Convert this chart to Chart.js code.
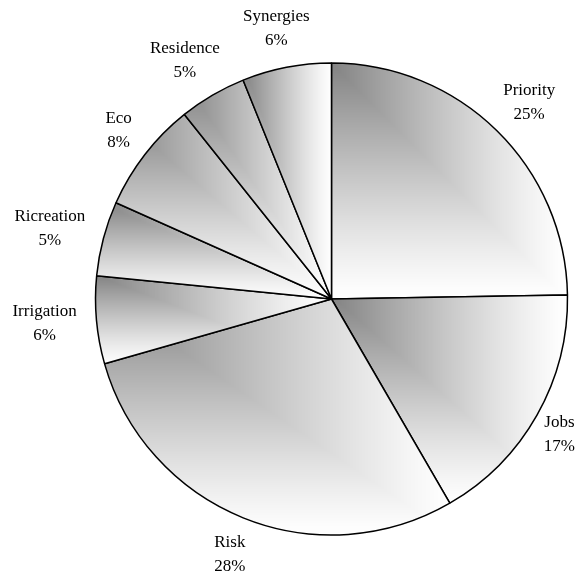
<!DOCTYPE html>
<html>
<head>
<meta charset="utf-8">
<script src="https://cdn.jsdelivr.net/npm/chart.js@4.4.0/dist/chart.umd.min.js"></script>
<style>
  html, body { margin: 0; padding: 0; background: #fff; }
  #wrap { width: 583px; height: 577px; }
</style>
</head>
<body>
<div id="wrap"><canvas id="pieChart"></canvas></div>
<script>
// slices clockwise from 12 o'clock
const categories = ['Priority', 'Jobs', 'Risk', 'Irrigation', 'Ricreation', 'Eco', 'Residence', 'Synergies'];
const shares = [24.7, 16.9, 28.9, 6.0, 5.1, 7.6, 4.6, 6.1];
const shareLabels = ['25%', '17%', '28%', '6%', '5%', '8%', '5%', '6%'];

// grey shading from the top-left corner of a box, like the old office fill
function cornerShade(w, h) {
    const c = document.createElement('canvas');
    c.width = Math.max(2, Math.ceil(w));
    c.height = Math.max(2, Math.ceil(h));
    const g = c.getContext('2d');
    const img = g.createImageData(c.width, c.height);
    for (let py = 0; py < c.height; py++) {
        for (let px = 0; px < c.width; px++) {
            const t = Math.max(px / (c.width - 1), py / (c.height - 1));
            const grey = Math.round(255 - 125 * Math.pow(1 - t, 1.2));
            const k = (py * c.width + px) * 4;
            img.data[k] = grey;
            img.data[k + 1] = grey;
            img.data[k + 2] = grey;
            img.data[k + 3] = 255;
        }
    }
    g.putImageData(img, 0, 0);
    return c;
}

const shadePlugin = {
    id: 'shade',
    beforeDatasetsDraw(chart) {
        const ctx = chart.ctx;
        chart.getDatasetMeta(0).data.forEach(arc => {
            const p = arc.getProps(['x', 'y', 'startAngle', 'endAngle', 'outerRadius'], true);
            const r = p.outerRadius;
            const xs = [p.x, p.x + r * Math.cos(p.startAngle), p.x + r * Math.cos(p.endAngle)];
            const ys = [p.y, p.y + r * Math.sin(p.startAngle), p.y + r * Math.sin(p.endAngle)];
            for (let k = -2; k <= 4; k++) {
                const a = k * Math.PI / 2;
                if (a > p.startAngle && a < p.endAngle) {
                    xs.push(p.x + r * Math.cos(a));
                    ys.push(p.y + r * Math.sin(a));
                }
            }
            const x0 = Math.min(...xs) - 1, x1 = Math.max(...xs) + 1;
            const y0 = Math.min(...ys) - 1, y1 = Math.max(...ys) + 1;
            const pat = ctx.createPattern(cornerShade(x1 - x0, y1 - y0), 'no-repeat');
            pat.setTransform(new DOMMatrix([1, 0, 0, 1, x0, y0]));
            arc.options.backgroundColor = pat;
        });
    }
};

const labelPlugin = {
    id: 'outsideLabels',
    afterDatasetsDraw(chart) {
        const ctx = chart.ctx;
        ctx.save();
        ctx.font = '17px "Liberation Serif", "Times New Roman", serif';
        ctx.fillStyle = '#000';
        ctx.textAlign = 'center';
        ctx.textBaseline = 'middle';
        const lineH = 24, gap = 20, boxH = 40;
        chart.getDatasetMeta(0).data.forEach((arc, i) => {
            const p = arc.getProps(['x', 'y', 'startAngle', 'endAngle', 'outerRadius'], true);
            const mid = (p.startAngle + p.endAngle) / 2;
            const dx = Math.cos(mid), dy = Math.sin(mid);
            const lines = [categories[i], shareLabels[i]];
            const w = Math.max(...lines.map(s => ctx.measureText(s).width));
            let cx = p.x + (p.outerRadius + gap) * dx + dx * w / 2;
            const cy = p.y + (p.outerRadius + gap) * dy + dy * boxH / 2;
            // keep the text block inside the canvas
            cx = Math.min(Math.max(cx, w / 2 + 8), chart.width - w / 2 - 8);
            lines.forEach((s, j) => {
                ctx.fillText(s, cx, cy + (j - (lines.length - 1) / 2) * lineH);
            });
        });
        ctx.restore();
    }
};

const ctx = document.getElementById('pieChart');

new Chart(ctx, {
    type: 'pie',
    data: {
        labels: categories,
        datasets: [{
            data: shares,
            backgroundColor: () => '#dddddd',
            borderColor: '#000000',
            borderWidth: 1.5,
            hoverOffset: 0
        }]
    },
    options: {
        responsive: true,
        maintainAspectRatio: false,
        animation: false,
        radius: 236,
        layout: { padding: { left: 80, right: 0, top: 21, bottom: 0 } },
        plugins: {
            legend: { display: false },
            tooltip: { enabled: false }
        }
    },
    plugins: [shadePlugin, labelPlugin]
});
</script>
</body>
</html>
